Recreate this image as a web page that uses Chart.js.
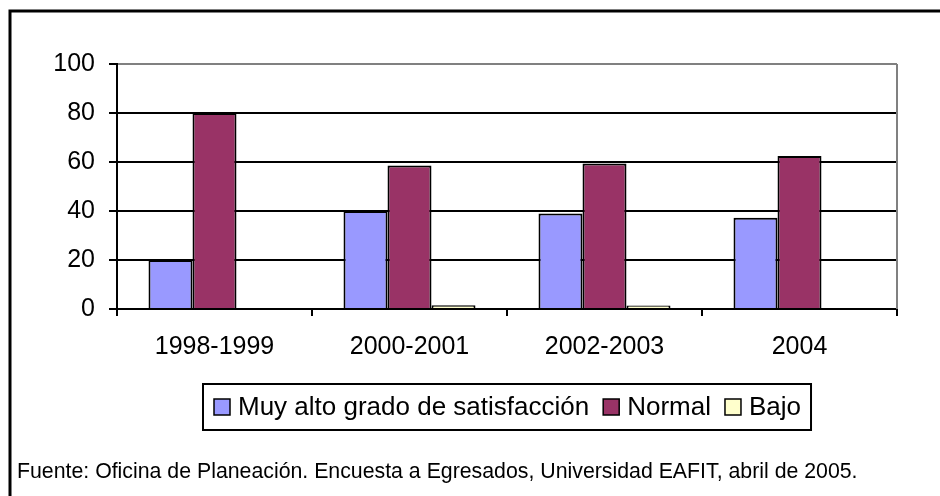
<!DOCTYPE html>
<html><head><meta charset="utf-8">
<script src="https://cdn.jsdelivr.net/npm/chart.js@4"></script>
<style>html,body{margin:0;padding:0;background:#fff;}#wrap{width:940px;height:496px;}</style>
</head><body><div id="wrap"><canvas id="c" width="940" height="496"></canvas></div>
<script>
const categories = ['1998-1999', '2000-2001', '2002-2003', '2004'];
const seriesNames = ['Muy alto grado de satisfacción', 'Normal', 'Bajo'];
const muyAlto = [20, 40, 39, 37.2];
const normal = [80, 58.6, 59.4, 62.5];
const bajo = [0, 1.5, 1.4, 0];
const seriesColors = ['#9999FF', '#993366', '#FFFFCC'];
const yMin = 0, yMax = 100, yStep = 20;
const sourceNote = 'Fuente: Oficina de Planeación. Encuesta a Egresados, Universidad EAFIT, abril de 2005.';

const FONT = '"Liberation Sans", Arial, sans-serif';

const decor = {
  id: 'decor',
  afterDraw(chart) {
    const ctx = chart.ctx;
    const a = chart.chartArea;
    ctx.save();
    // outer frame (top & left)
    ctx.strokeStyle = '#000';
    ctx.lineWidth = 3;
    ctx.beginPath();
    ctx.moveTo(10, 496); ctx.lineTo(10, 11); ctx.lineTo(940, 11);
    ctx.stroke();
    // right plot border (grey)
    ctx.strokeStyle = '#808080';
    ctx.lineWidth = 2;
    ctx.beginPath();
    ctx.moveTo(a.right, a.top); ctx.lineTo(a.right, a.bottom);
    ctx.stroke();
    // legend
    ctx.font = '26px ' + FONT;
    const sq = 16, gapBoxText = 8, gapItems = 14, padL = 11, padR = 10;
    const ds = chart.data.datasets;
    let total = padL + padR;
    const widths = ds.map(d => ctx.measureText(d.label).width);
    widths.forEach((w, i) => { total += sq + gapBoxText + w + (i < ds.length - 1 ? gapItems : 0); });
    const cx = (a.left + a.right) / 2;
    const bx = Math.round(cx - total / 2), by = 384, bh = 46;
    ctx.strokeStyle = '#000';
    ctx.lineWidth = 2;
    ctx.strokeRect(bx, by, total, bh);
    let x = bx + padL;
    const midY = by + bh / 2;
    ds.forEach((d, i) => {
      ctx.fillStyle = d.backgroundColor;
      ctx.fillRect(x, midY - sq / 2, sq, sq);
      ctx.lineWidth = 1.5;
      ctx.strokeStyle = '#000';
      ctx.strokeRect(x, midY - sq / 2, sq, sq);
      x += sq + gapBoxText;
      ctx.fillStyle = '#000';
      ctx.textBaseline = 'middle';
      ctx.textAlign = 'left';
      ctx.fillText(d.label, x, midY + 1);
      x += widths[i] + gapItems;
    });
    // source note
    ctx.font = '21.3px ' + FONT;
    ctx.fillStyle = '#000';
    ctx.textBaseline = 'alphabetic';
    ctx.fillText(sourceNote, 17, 478);
    ctx.restore();
  }
};

new Chart(document.getElementById('c'), {
  type: 'bar',
  data: {
    labels: categories,
    datasets: [
      { label: seriesNames[0], data: muyAlto, backgroundColor: seriesColors[0] },
      { label: seriesNames[1], data: normal, backgroundColor: seriesColors[1] },
      { label: seriesNames[2], data: bajo, backgroundColor: seriesColors[2] }
    ].map(d => Object.assign(d, { borderColor: '#000', borderWidth: 2, categoryPercentage: 0.677, barPercentage: 1.0 }))
  },
  options: {
    responsive: false,
    animation: false,
    devicePixelRatio: 1,
    layout: { padding: { top: 64, right: 43, left: 0, bottom: 0 } },
    plugins: { legend: { display: false }, tooltip: { enabled: false }, title: { display: false } },
    scales: {
      x: {
        offset: true,
        grid: { offset: true, drawOnChartArea: false, drawTicks: true, tickLength: 7, color: '#000', lineWidth: 2 },
        border: { display: true, color: '#000', width: 2 },
        ticks: { color: '#000', font: { family: FONT, size: 25 }, padding: 16, maxRotation: 0, autoSkip: false },
        afterFit(s) { s.height = 187; }
      },
      y: {
        min: yMin, max: yMax,
        ticks: { stepSize: yStep, color: '#000', font: { family: FONT, size: 25 }, padding: 14 },
        grid: {
          color: c => (c.tick && c.tick.value === yMax) ? '#808080' : '#000',
          tickColor: '#000', lineWidth: 2, tickLength: 8
        },
        border: { display: true, color: '#000', width: 2 },
        afterFit(s) { s.width = 117; }
      }
    }
  },
  plugins: [decor]
});
</script></body></html>
